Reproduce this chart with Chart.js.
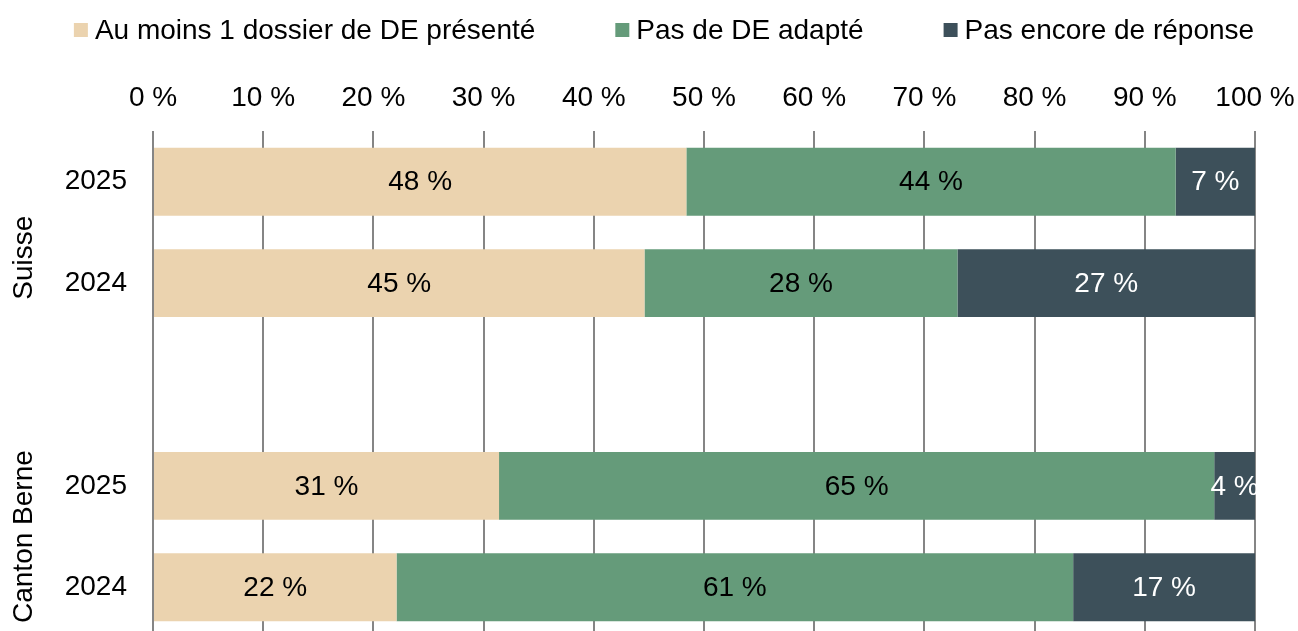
<!DOCTYPE html>
<html>
<head>
<meta charset="utf-8">
<script src="https://cdn.jsdelivr.net/npm/chart.js@4.4.1/dist/chart.umd.min.js"></script>
<style>
    html, body { margin: 0; padding: 0; background: #fff; overflow: hidden; }
    #wrap { width: 1298px; height: 631px; overflow: hidden; }
</style>
</head>
<body>
<div id="wrap"><canvas id="barChart" width="1298" height="638"></canvas></div>
<script>
// categories (empty slot separates the two groups)
const years = ['2025', '2024', '', '2025', '2024'];
const groups = [
    { label: 'Suisse', from: -0.5, to: 2 },
    { label: 'Canton Berne', from: 2.5, to: 4.5 }
];
const seriesNames = ['Au moins 1 dossier de DE présenté', 'Pas de DE adapté', 'Pas encore de réponse'];
const presented = [48.4, 44.6, null, 31.4, 22.1];
const noAdapted = [44.4, 28.4, null, 64.9, 61.4];
const noAnswer = [7.2, 27.0, null, 3.7, 16.5];
const xTicks = [0, 10, 20, 30, 40, 50, 60, 70, 80, 90, 100];

const FONT = 'Arial, "Liberation Sans", sans-serif';
const FONT_SIZE = 28;

// legend drawn by hand so the spacing matches the original
const topLegend = {
    id: 'topLegend',
    afterDraw(chart) {
        const ctx = chart.ctx;
        const box = 14, gapText = 7, gapItem = 80, centerX = 664, y = 30;
        ctx.save();
        ctx.font = FONT_SIZE + 'px ' + FONT;
        ctx.textBaseline = 'middle';
        ctx.textAlign = 'left';
        const items = chart.data.datasets.map(ds => ({
            text: ds.label,
            color: ds.backgroundColor,
            w: ctx.measureText(ds.label).width
        }));
        let total = items.reduce((s, it) => s + box + gapText + it.w, 0) + gapItem * (items.length - 1);
        let x = centerX - total / 2;
        items.forEach(it => {
            ctx.fillStyle = it.color;
            ctx.fillRect(x, y - box / 2, box, box);
            ctx.fillStyle = '#000';
            ctx.fillText(it.text, x + box + gapText, y + 1);
            x += box + gapText + it.w + gapItem;
        });
        ctx.restore();
    }
};

const segmentLabels = {
    id: 'segmentLabels',
    afterDatasetsDraw(chart) {
        const ctx = chart.ctx;
        ctx.save();
        ctx.font = FONT_SIZE + 'px ' + FONT;
        ctx.textAlign = 'center';
        ctx.textBaseline = 'middle';
        chart.data.datasets.forEach((ds, i) => {
            const meta = chart.getDatasetMeta(i);
            meta.data.forEach((bar, j) => {
                const v = ds.data[j];
                if (v == null) return;
                const cx = (bar.x + bar.base) / 2;
                ctx.fillStyle = ds.labelColor;
                ctx.fillText(Math.round(v) + ' %', cx, bar.y + 1);
            });
        });
        ctx.restore();
    }
};

const groupLabels = {
    id: 'groupLabels',
    afterDraw(chart) {
        const ctx = chart.ctx;
        const y = chart.scales.y;
        ctx.save();
        ctx.font = FONT_SIZE + 'px ' + FONT;
        ctx.fillStyle = '#000';
        ctx.textAlign = 'center';
        ctx.textBaseline = 'middle';
        groups.forEach(g => {
            const top = y.getPixelForValue(g.from);
            const bottom = y.getPixelForValue(g.to);
            ctx.save();
            ctx.translate(24, (top + bottom) / 2);
            ctx.rotate(-Math.PI / 2);
            ctx.fillText(g.label, 0, 0);
            ctx.restore();
        });
        ctx.restore();
    }
};

function buildChart() {
    const ctx = document.getElementById('barChart').getContext('2d');
    new Chart(ctx, {
        type: 'bar',
        data: {
            labels: years,
            datasets: [
                { label: seriesNames[0], data: presented, backgroundColor: '#EBD3AF', labelColor: '#000' },
                { label: seriesNames[1], data: noAdapted, backgroundColor: '#659B7A', labelColor: '#000' },
                { label: seriesNames[2], data: noAnswer, backgroundColor: '#3D505A', labelColor: '#fff' }
            ]
        },
        options: {
            indexAxis: 'y',
            responsive: false,
            animation: false,
            datasets: {
                bar: { categoryPercentage: 0.67, barPercentage: 1, borderWidth: 0 }
            },
            layout: { padding: { left: 30, right: 0, top: 81, bottom: 0 } },
            plugins: {
                tooltip: { enabled: false },
                legend: { display: false }
            },
            scales: {
                x: {
                    position: 'top',
                    stacked: true,
                    min: 0,
                    max: 100,
                    afterBuildTicks: scale => { scale.ticks = xTicks.map(v => ({ value: v })); },
                    afterFit: scale => {
                        scale.height = 50;
                        scale.paddingLeft = 0;
                        scale.paddingRight = 43;
                    },
                    ticks: {
                        color: '#000',
                        padding: 16,
                        maxRotation: 0,
                        font: { family: FONT, size: FONT_SIZE },
                        callback: value => value + ' %'
                    },
                    grid: { color: '#858585', lineWidth: 2, drawTicks: false },
                    border: { display: false }
                },
                y: {
                    stacked: true,
                    afterFit: scale => {
                        scale.width = 123;
                        scale.paddingTop = 0;
                        scale.paddingBottom = 0;
                    },
                    ticks: {
                        color: '#000',
                        padding: 18,
                        font: { family: FONT, size: FONT_SIZE }
                    },
                    grid: { display: false },
                    border: { display: false }
                }
            }
        },
        plugins: [segmentLabels, groupLabels, topLegend]
    });
}

document.addEventListener('DOMContentLoaded', buildChart);
</script>
</body>
</html>
